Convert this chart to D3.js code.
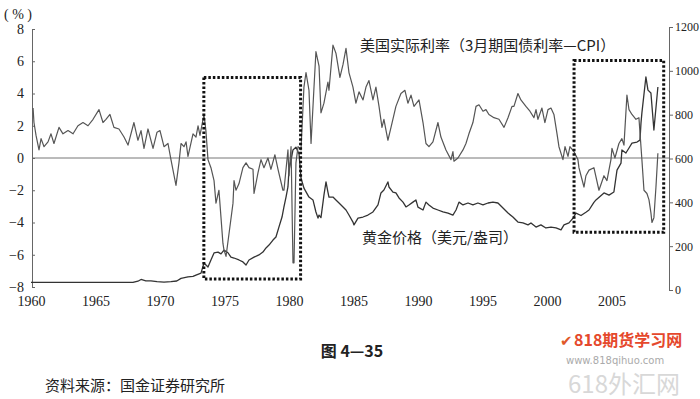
<!DOCTYPE html>
<html><head><meta charset="utf-8">
<script src="https://cdn.jsdelivr.net/npm/d3@7"></script>
<style>body{margin:0;background:#fff;} svg{display:block;}</style>
</head><body>
<svg id="c" width="700" height="399"></svg>
<script>
const yearTicks = [1960,1965,1970,1975,1980,1985,1990,1995,2000,2005];
const leftTicks = [-8,-6,-4,-2,0,2,4,6,8];
const rightTicks = [0,200,400,600,800,1000,1200];

// 美国实际利率 (%) : [year, value]
const realRate = [[1960.16,3.1],[1960.23,2.2],[1960.39,1.4],[1960.62,0.5],[1960.78,1.2],[1961.01,0.7],[1961.32,1.0],[1961.55,1.5],[1961.78,0.9],[1962.17,1.9],[1962.48,1.5],[1962.87,1.7],[1963.26,1.5],[1963.64,2.0],[1964.03,2.2],[1964.42,2.0],[1964.81,2.4],[1965.27,3.0],[1965.58,2.2],[1965.81,2.4],[1966.12,2.7],[1966.43,1.9],[1966.82,1.8],[1967.21,1.3],[1967.52,0.8],[1967.98,2.2],[1968.29,1.1],[1968.53,1.7],[1968.76,0.6],[1969.07,1.8],[1969.46,0.6],[1969.77,1.6],[1970.00,1.7],[1970.31,0.7],[1970.62,0.9],[1970.85,-0.1],[1971.24,-1.7],[1971.47,-0.3],[1971.63,0.9],[1971.86,0.7],[1972.02,1.0],[1972.17,0.1],[1972.56,1.5],[1972.79,1.3],[1972.95,2.0],[1973.10,1.4],[1973.41,2.7],[1973.56,1.7],[1973.72,-0.1],[1973.95,-0.6],[1974.19,-1.4],[1974.34,-2.8],[1974.57,-2.0],[1974.73,-3.7],[1974.88,-5.3],[1974.96,-5.7],[1975.12,-6.1],[1975.35,-4.7],[1975.66,-2.8],[1975.74,-1.4],[1975.89,-2.0],[1976.12,-1.6],[1976.43,-0.6],[1976.67,-0.3],[1976.90,-0.6],[1977.21,-0.7],[1977.29,-2.2],[1977.60,-0.9],[1977.83,-0.1],[1978.06,-0.6],[1978.37,0.0],[1978.60,-0.7],[1978.91,0.2],[1979.15,-0.7],[1979.53,-2.0],[1979.61,-2.0],[1979.92,0.5],[1980.00,-1.1],[1980.16,0.7],[1980.31,-6.5],[1980.39,-6.5],[1980.54,-0.3],[1980.70,0.7],[1980.93,0.5],[1981.16,4.4],[1981.32,5.3],[1981.55,4.2],[1981.71,0.9],[1981.94,4.4],[1982.09,6.6],[1982.33,5.7],[1982.48,2.8],[1982.71,3.4],[1983.02,4.7],[1983.10,4.2],[1983.41,7.0],[1983.64,6.5],[1983.95,5.0],[1984.19,5.8],[1984.42,6.8],[1984.65,5.3],[1984.96,4.4],[1985.19,3.4],[1985.43,4.1],[1985.74,3.6],[1985.97,4.4],[1986.20,4.8],[1986.51,3.6],[1986.74,4.4],[1986.98,3.2],[1987.21,1.9],[1987.36,2.4],[1987.67,1.1],[1987.91,1.9],[1988.29,3.2],[1988.68,4.0],[1988.99,4.2],[1989.22,3.4],[1989.46,3.9],[1989.69,3.2],[1990.08,3.6],[1990.39,2.2],[1990.62,0.9],[1990.85,0.7],[1991.16,1.0],[1991.55,2.2],[1991.78,1.3],[1992.17,0.5],[1992.56,-0.1],[1992.71,0.4],[1992.79,-0.2],[1993.10,0.0],[1993.49,0.5],[1993.72,0.9],[1993.95,1.5],[1994.26,2.2],[1994.50,3.2],[1994.73,3.3],[1995.04,2.9],[1995.27,3.0],[1995.50,2.7],[1995.89,2.5],[1996.28,2.4],[1996.67,1.9],[1996.98,2.5],[1997.29,3.2],[1997.44,3.2],[1997.75,4.0],[1997.98,3.6],[1998.37,3.2],[1998.68,2.9],[1998.99,2.5],[1999.15,3.0],[1999.30,2.4],[1999.61,3.1],[1999.84,2.2],[2000.08,3.0],[2000.31,3.1],[2000.54,2.7],[2000.78,1.5],[2000.93,0.7],[2001.24,-0.1],[2001.40,0.7],[2001.63,0.1],[2001.78,0.7],[2002.09,0.4],[2002.40,-0.1],[2002.48,-0.6],[2002.64,-1.1],[2002.87,-1.8],[2003.02,-1.1],[2003.26,-0.75],[2003.64,-0.6],[2004.03,-2.0],[2004.42,-1.1],[2004.65,-1.4],[2004.96,-0.1],[2005.04,0.6],[2005.27,0.0],[2005.58,0.9],[2005.81,1.2],[2005.97,0.8],[2006.20,3.9],[2006.36,3.0],[2006.59,2.7],[2006.90,2.4],[2007.13,2.5],[2007.36,-0.1],[2007.52,-2.0],[2007.75,-2.2],[2007.91,-2.6],[2008.06,-3.4],[2008.14,-4.0],[2008.29,-3.7],[2008.45,-1.8],[2008.60,0.3]];

// 黄金价格 (美元/盎司) : [year, value]
const goldPrice = [[1960.0,35],[1962.0,35],[1964.0,35],[1966.0,35],[1967.9,35],[1968.29,40],[1968.53,48],[1968.9,42],[1969.3,42],[1969.77,38],[1970.31,36],[1970.85,38],[1971.3,41],[1971.63,53],[1972.17,60],[1972.56,62],[1972.79,68],[1973.18,77],[1973.41,123],[1973.72,105],[1973.95,137],[1974.19,169],[1974.50,173],[1974.73,165],[1974.96,182],[1975.27,170],[1975.50,150],[1975.74,146],[1976.12,137],[1976.43,128],[1976.67,114],[1976.90,137],[1977.29,150],[1977.67,160],[1977.98,173],[1978.22,192],[1978.45,205],[1978.76,228],[1978.99,242],[1979.22,287],[1979.46,333],[1979.61,379],[1979.77,424],[1979.92,470],[1980.00,547],[1980.16,593],[1980.31,639],[1980.54,652],[1980.78,620],[1980.93,511],[1981.16,465],[1981.55,424],[1981.86,411],[1982.09,356],[1982.25,328],[1982.33,342],[1982.48,330],[1982.64,401],[1982.71,433],[1982.87,493],[1983.02,447],[1983.10,424],[1983.41,424],[1983.64,411],[1983.88,397],[1984.19,379],[1984.42,365],[1984.65,342],[1984.96,310],[1985.04,297],[1985.35,328],[1985.74,333],[1986.12,342],[1986.51,356],[1986.90,388],[1987.13,443],[1987.36,456],[1987.67,493],[1987.75,470],[1988.06,447],[1988.29,443],[1988.53,420],[1988.84,401],[1989.07,379],[1989.30,388],[1989.61,401],[1989.84,411],[1990.00,378],[1990.39,365],[1990.62,401],[1990.85,388],[1991.16,374],[1991.55,365],[1991.94,356],[1992.33,351],[1992.71,342],[1992.95,365],[1993.18,401],[1993.49,388],[1993.88,397],[1994.26,388],[1994.65,397],[1995.04,388],[1995.43,397],[1995.81,401],[1996.20,397],[1996.59,374],[1996.98,351],[1997.36,333],[1997.75,310],[1998.14,306],[1998.53,297],[1998.76,306],[1999.15,287],[1999.53,297],[1999.92,283],[2000.31,287],[2000.70,283],[2001.09,274],[2001.32,297],[2001.71,306],[2002.02,328],[2002.25,351],[2002.64,340],[2003.02,355],[2003.26,365],[2003.64,400],[2003.80,411],[2004.42,443],[2004.81,433],[2005.19,447],[2005.43,547],[2005.74,579],[2005.81,639],[2006.12,625],[2006.36,648],[2006.59,670],[2006.98,675],[2007.21,684],[2007.29,762],[2007.36,808],[2007.67,972],[2007.83,912],[2008.06,899],[2008.29,730],[2008.60,926]];

// highlighted periods: [startYear, endYear, top %, bottom %]
const highlightBoxes = [[1973.4, 1980.9, 5.0, -7.5], [2002.1, 2009.05, 6.05, -4.6]];

const svg = d3.select("#c");
const x = d3.scaleLinear().domain([1960, 2009.5]).range([31, 669.5]);
const yL = d3.scaleLinear().domain([-8, 8]).range([287, 29]);
const yR = d3.scaleLinear().domain([0, 1200]).range([290, 27]);

const serif = '"Liberation Serif","DejaVu Serif",serif';
const cjk = '"Noto Sans CJK SC","Noto Sans CJK JP",sans-serif';

// zero line
svg.append("line").attr("x1", 32).attr("x2", 669).attr("y1", yL(0)).attr("y2", yL(0))
  .attr("stroke", "#777").attr("stroke-width", 1);

// left axis
const gL = svg.append("g").attr("transform", "translate(32,0)")
  .call(d3.axisLeft(yL).tickValues(leftTicks).tickSizeInner(-3).tickSizeOuter(0).tickPadding(8));
// right axis
const gR = svg.append("g").attr("transform", "translate(669,0)")
  .call(d3.axisRight(yR).tickValues(rightTicks).tickFormat(d3.format("d")).tickSizeInner(4).tickSizeOuter(0).tickPadding(2));
// bottom labels
const gB = svg.append("g").attr("transform", "translate(0,288)")
  .call(d3.axisBottom(x).tickValues(yearTicks).tickFormat(d3.format("d")).tickSize(0).tickPadding(8));
gB.select(".domain").remove();

[gL, gR, gB].forEach(g => {
  g.attr("font-family", null).attr("font-size", null);
  g.selectAll("text").style("font-family", serif).style("font-size", "14px").attr("fill", "#222");
  g.selectAll("path,line").attr("stroke", "#666");
});
gR.selectAll("text").style("font-size", "12px");

const lineL = d3.line().x(d => x(d[0])).y(d => yL(d[1]));
const lineR = d3.line().x(d => x(d[0])).y(d => yR(d[1]));

svg.append("path").datum(goldPrice).attr("d", lineR)
  .attr("fill", "none").attr("stroke", "#333").attr("stroke-width", 1.3).attr("stroke-linejoin", "round");
svg.append("path").datum(realRate).attr("d", lineL)
  .attr("fill", "none").attr("stroke", "#555").attr("stroke-width", 1.2).attr("stroke-linejoin", "round");

// dotted boxes
svg.selectAll("rect.hl").data(highlightBoxes).join("rect").attr("class", "hl")
  .attr("x", d => x(d[0])).attr("y", d => yL(d[2]))
  .attr("width", d => x(d[1]) - x(d[0])).attr("height", d => yL(d[3]) - yL(d[2]))
  .attr("fill", "none").attr("stroke", "#111").attr("stroke-width", 3)
  .attr("stroke-dasharray", "2.5,2");

// texts
svg.append("text").attr("x", 4).attr("y", 19).style("font-family", serif).style("font-size", "14px")
  .attr("fill", "#222").text("( % )");
svg.append("text").attr("x", 360).attr("y", 51).style("font-family", cjk).style("font-size", "15px")
  .attr("fill", "#222").text("美国实际利率（3月期国债利率—CPI）");
svg.append("text").attr("x", 362).attr("y", 243).style("font-family", cjk).style("font-size", "15px")
  .attr("fill", "#222").text("黄金价格（美元/盎司）");
svg.append("text").attr("x", 352).attr("y", 357).attr("text-anchor", "middle").style("font-family", cjk)
  .style("font-size", "16px").style("font-weight", "bold").attr("fill", "#222").text("图 4—35");
svg.append("text").attr("x", 45).attr("y", 391).style("font-family", cjk).style("font-size", "15px")
  .attr("fill", "#222").text("资料来源：国金证券研究所");

// watermark
svg.append("text").attr("x", 560).attr("y", 346).style("font-family", '"DejaVu Sans",sans-serif')
  .style("font-size", "15px").attr("fill", "#e0582a").text("✔");
svg.append("text").attr("x", 574).attr("y", 346).style("font-family", cjk).style("font-size", "16px")
  .style("font-weight", "bold").attr("fill", "#e5482c").text("818期货学习网");
svg.append("text").attr("x", 566).attr("y", 364).style("font-family", '"DejaVu Sans",sans-serif')
  .style("font-size", "10px").attr("fill", "#aaa").text("www.818qihuo.com");
svg.append("text").attr("x", 568).attr("y", 393).style("font-family", cjk).style("font-size", "24px")
  .attr("fill", "#d8d8d8").text("618外汇网");
</script>
</body></html>
